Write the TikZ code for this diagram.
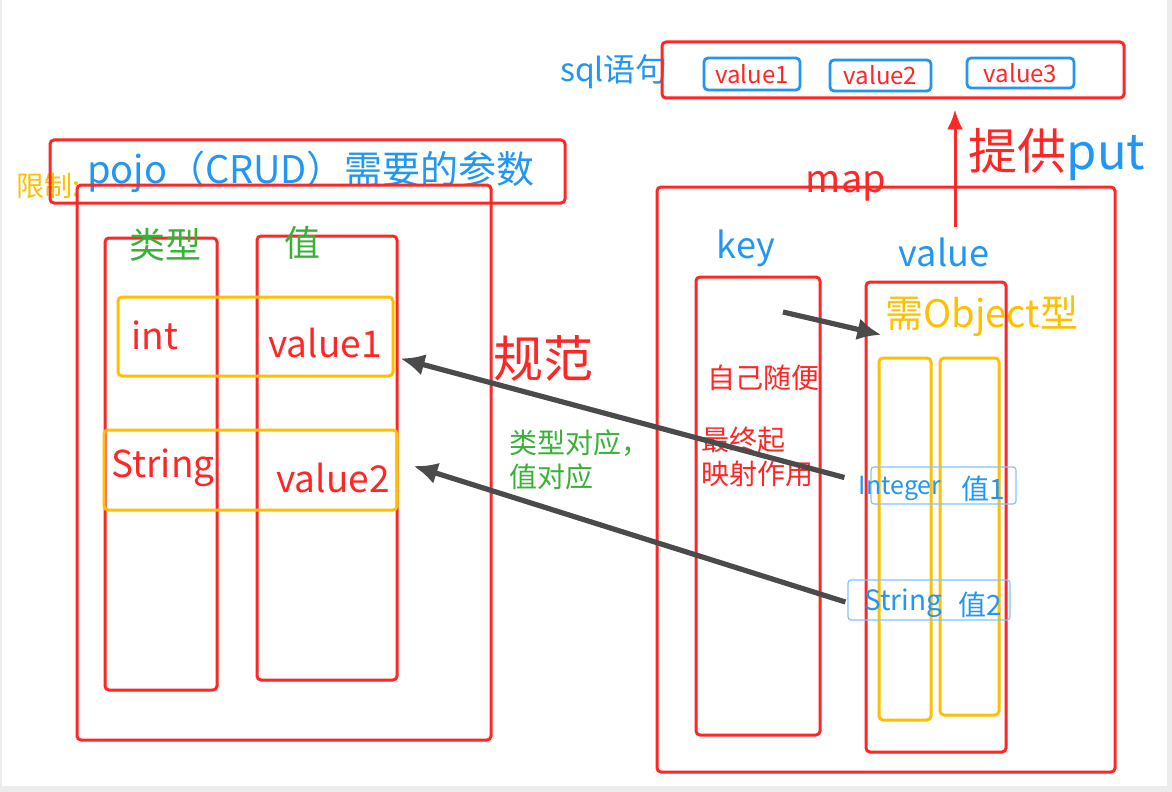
\documentclass[tikz,border=0pt]{standalone}
\usepackage{fontspec}
\setmainfont{Noto Sans CJK SC}
\usepackage{tikz}
\usetikzlibrary{arrows.meta}
\definecolor{mred}{RGB}{255,38,38}
\definecolor{mblue}{RGB}{33,150,243}
\definecolor{lblue}{RGB}{130,195,255}
\definecolor{mgreen}{RGB}{55,178,55}
\definecolor{mylw}{RGB}{255,192,0}
\definecolor{mgray}{RGB}{75,75,75}
\definecolor{bggray}{RGB}{236,236,236}
\tikzset{redbox/.style = {draw=mred, line width=1.5pt, rounded corners=2pt, inner sep=0}}
\tikzset{ylwbox/.style = {draw=mylw, line width=1.5pt, rounded corners=2pt, inner sep=0}}
\tikzset{bluebox/.style = {draw=mblue, line width=1.4pt, rounded corners=2pt, inner sep=0}}
\tikzset{thinbox/.style = {draw=lblue, line width=0.6pt, rounded corners=1.5pt, inner sep=0}}
\tikzset{lbl/.style = {inner sep=0}}
\tikzset{grayarr/.style = {draw=mgray, line width=2.6pt, -{Latex[length=12pt, width=11pt]}}}
\tikzset{redarr/.style = {draw=mred, line width=1.5pt, -{Latex[length=10pt, width=8pt]}}}

\begin{document}
\begin{tikzpicture}[x=0.5pt, y=-0.5pt]
  \useasboundingbox (0,0) rectangle (1172,792);
  \fill [bggray] (0,0) rectangle (1172,792);
  \fill [white] (2,0) rectangle (1167,786);

  % sql statement
  \node [lbl, text=mblue, font=\fontsize{16}{18}\selectfont] (sqltxt) at (614,72) {sql语句};
  \node [redbox, minimum width=231pt, minimum height=28pt] (sqlbox) at (893,70) {};
  \node [bluebox, text=mred, font=\fontsize{12}{14}\selectfont, minimum width=48pt, minimum height=16pt] (sqlvA) at (752,74) {value1};
  \node [bluebox, text=mred, font=\fontsize{12}{14}\selectfont, minimum width=50.5pt, minimum height=15.5pt] (sqlvB) at (880.5,75.5) {value2};
  \node [bluebox, text=mred, font=\fontsize{12}{14}\selectfont, minimum width=53.5pt, minimum height=15pt] (sqlvC) at (1020.5,73) {value3};
  \node [lbl, font=\fontsize{24.5}{26}\selectfont] (puttxt) at (1057,155) {\color{mred}提供\color{mblue}put};

  % pojo side
  \node [lbl, text=mylw, font=\fontsize{14}{16}\selectfont] (limit) at (48,186) {限制:};
  \node [redbox, minimum width=257.5pt, minimum height=31.5pt] (pojobox) at (307.5,171.5) {};
  \node [lbl, text=mblue, font=\fontsize{19}{21}\selectfont] (pojotxt) at (311,172) {pojo（CRUD）需要的参数};
  \node [redbox, minimum width=207pt, minimum height=277.5pt] (pojo) at (284,462.5) {};
  \node [redbox, minimum width=56pt, minimum height=226pt] (typecol) at (161,464) {};
  \node [redbox, minimum width=70pt, minimum height=222pt] (valcol) at (327,458) {};
  \node [lbl, text=mgreen, font=\fontsize{18}{20}\selectfont] (typelbl) at (165,245) {类型};
  \node [lbl, text=mgreen, font=\fontsize{18}{20}\selectfont] (vallbl) at (302,243) {值};
  \node [ylwbox, minimum width=137.5pt, minimum height=39.5pt] (introw) at (255.5,336.5) {};
  \node [ylwbox, minimum width=146.5pt, minimum height=40pt] (strrow) at (250.5,470) {};
  \node [lbl, text=mred, font=\fontsize{18.5}{20}\selectfont] (inttxt) at (155,335) {int};
  \node [lbl, text=mred, font=\fontsize{18.5}{20}\selectfont] (vAtxt) at (325,343) {value1};
  \node [lbl, text=mred, font=\fontsize{18.5}{20}\selectfont] (strtxt) at (163,468) {String};
  \node [lbl, text=mred, font=\fontsize{18.5}{20}\selectfont] (vBtxt) at (333,478) {value2};

  % middle notes
  \node [lbl, text=mred, font=\fontsize{25}{27}\selectfont] (rule) at (543,358) {规范};
  \node [lbl, text=mgreen, font=\fontsize{14}{17}\selectfont, align=left, anchor=west] (match) at (509,460) {类型对应，\\值对应};

  % map side
  \node [redbox, minimum width=229pt, minimum height=292.5pt] (map) at (886,479.5) {};
  \node [lbl, text=mred, font=\fontsize{19}{21}\selectfont] (maptxt) at (846,186) {map};
  \node [lbl, text=mblue, font=\fontsize{18}{20}\selectfont] (keylbl) at (746,248) {key};
  \node [lbl, text=mblue, font=\fontsize{18}{20}\selectfont] (valuelbl) at (944,252) {value};
  \node [redbox, minimum width=62pt, minimum height=229pt] (keybox) at (758,506) {};
  \node [redbox, minimum width=70pt, minimum height=235pt] (valbox) at (936,517) {};
  \node [lbl, text=mylw, font=\fontsize{19}{21}\selectfont] (needobj) at (982,316) {需Object型};
  \node [ylwbox, minimum width=26pt, minimum height=181pt] (objA) at (905,539) {};
  \node [ylwbox, minimum width=29.5pt, minimum height=178.5pt] (objB) at (969.5,536.5) {};
  \node [lbl, text=mred, font=\fontsize{14}{17}\selectfont] (free) at (763,378) {自己随便};
  \node [lbl, text=mred, font=\fontsize{14}{17}\selectfont, align=left, anchor=west] (mapping) at (701,457) {最终起\\映射作用};
  \node [thinbox, minimum width=72.5pt, minimum height=18.5pt] (intbox) at (943.5,485.5) {};
  \node [lbl, text=mblue, font=\fontsize{12.5}{14}\selectfont] (integertxt) at (900,488) {Integer};
  \node [lbl, text=mblue, font=\fontsize{14}{16}\selectfont] (valAtxt) at (983,489) {值1};
  \node [thinbox, minimum width=81pt, minimum height=20pt] (strbox) at (929,600) {};
  \node [lbl, text=mblue, font=\fontsize{14}{16}\selectfont] (stringtxt) at (903,603) {String};
  \node [lbl, text=mblue, font=\fontsize{14}{16}\selectfont] (valBtxt) at (980,605) {值2};

  % arrows
  \coordinate (putx) at (955,0);
  \coordinate (keytail) at (783,312);
  \draw [redarr, shorten >=5pt] ([yshift=5pt]valuelbl.north -| putx) -- (sqlbox.south -| putx);
  \draw [grayarr] (keytail) -- ([shift={(-2pt,1pt)}]needobj.south west);
  \draw [grayarr] ([shift={(-13pt,4pt)}]intbox.west) -- ([shift={(3pt,-11pt)}]introw.east);
  \draw [grayarr] ([shift={(-1pt,-1pt)}]strbox.west) -- ([shift={(7.5pt,2pt)}]strrow.east);
\end{tikzpicture}
\end{document}
